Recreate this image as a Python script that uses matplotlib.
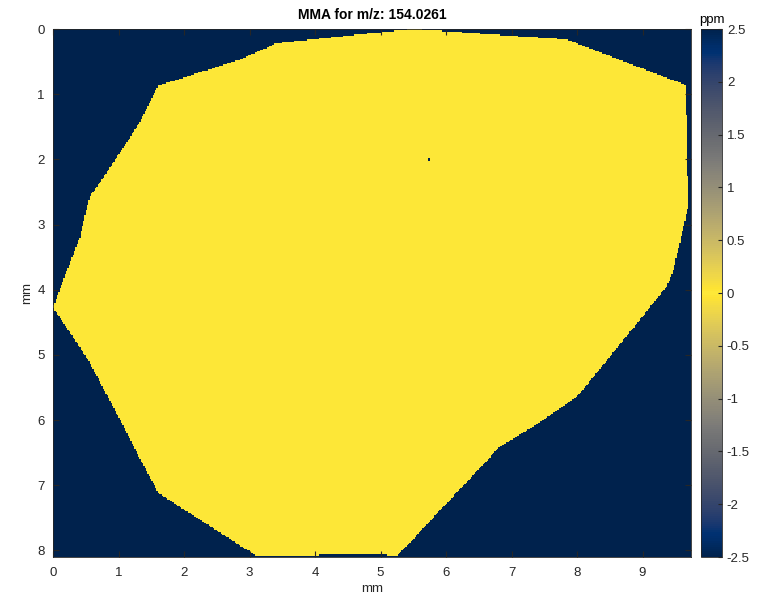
import numpy as np
import matplotlib
matplotlib.use('Agg')
from matplotlib import pyplot as plt
from matplotlib.path import Path
from matplotlib.colors import ListedColormap

# polygon outline of the sample (x mm, y mm)
outline_x = [5.50, 7.84, 9.66, 9.70, 9.47, 9.37, 8.96, 8.50, 8.00, 7.33, 6.82,
             5.26, 3.10, 1.61, 1.28, 0.97, 0.51, 0.00, 0.41, 0.56, 0.74, 1.10,
             1.33, 1.60, 2.85, 3.41, 4.79]
outline_y = [0.00, 0.16, 0.86, 2.72, 3.70, 3.95, 4.46, 5.03, 5.64, 6.10, 6.41,
             8.08, 8.08, 7.12, 6.50, 5.89, 5.03, 4.27, 3.19, 2.57, 2.32, 1.78,
             1.42, 0.87, 0.47, 0.22, 0.07]

mass_error_inside = 0.0   # ppm, value inside the tissue
mass_error_outside = 2.5  # ppm, value outside (shown dark)
dark_spot = (5.75, 2.0)   # single dark pixel in the tissue
bottom_gap = (4.05, 5.10) # dark strip on the last row

x_max, y_max = 9.74, 8.10
px = 0.02  # pixel size in mm

title = 'MMA for m/z: 154.0261'
cbar_ticks = [-2.5, -2, -1.5, -1, -0.5, 0, 0.5, 1, 1.5, 2, 2.5]
cbar_labels = ['-2.5', '-2', '-1.5', '-1', '-0.5', '0', '0.5', '1', '1.5', '2', '2.5']

plt.rcParams['font.family'] = ['Liberation Sans', 'DejaVu Sans']
plt.rcParams['font.size'] = 9.5

# build the image on a regular grid
xs = np.arange(px / 2, x_max, px)
ys = np.arange(px / 2, y_max, px)
gx, gy = np.meshgrid(xs, ys)
outline = Path(np.column_stack([outline_x, outline_y]))
inside = outline.contains_points(np.column_stack([gx.ravel(), gy.ravel()])).reshape(gx.shape)
img = np.where(inside, mass_error_inside, mass_error_outside)
ix = np.argmin(np.abs(xs - dark_spot[0]))
iy = np.argmin(np.abs(ys - dark_spot[1]))
img[iy - 1:iy + 1, ix - 1:ix + 1] = mass_error_outside
img[-2:, (xs > bottom_gap[0]) & (xs < bottom_gap[1])] = mass_error_outside

# cividis going up to yellow at 0 and back down
civ = plt.get_cmap('cividis')
cmap = ListedColormap(np.vstack([civ(np.linspace(0, 1, 128)), civ(np.linspace(1, 0, 128))]))

W, H = 769, 597
fig = plt.figure(figsize=(W / 100, H / 100), dpi=100)
ax = fig.add_axes([53 / W, 1 - 557 / H, 638 / W, 528 / H])
im = ax.imshow(img, cmap=cmap, vmin=-2.5, vmax=2.5, extent=[0, x_max, y_max, 0],
               aspect='auto', interpolation='nearest')
ax.set_xlim(0, x_max)
ax.set_ylim(y_max, 0)
ax.set_xticks(range(0, 10))
ax.set_yticks(range(0, 9))
ax.tick_params(direction='in', length=4, top=True, right=True, colors='#262626',
               labelcolor='#262626')
ax.tick_params(axis='x', pad=7)
ax.tick_params(axis='y', pad=6)
for s in ax.spines.values():
    s.set_color('#262626')
    s.set_linewidth(0.6)
ax.set_xlabel('mm', color='#262626', labelpad=3)
ax.set_ylabel('mm', color='#262626', labelpad=3)
ax.set_title(title, fontweight='bold', fontsize=10, pad=7)

cax = fig.add_axes([701 / W, 1 - 557 / H, 21 / W, 528 / H])
cb = fig.colorbar(im, cax=cax, ticks=cbar_ticks)
cb.ax.set_yticklabels(cbar_labels)
cb.ax.tick_params(direction='in', length=3, colors='#262626', labelcolor='#262626')
cb.outline.set_edgecolor('#262626')
cb.outline.set_linewidth(0.6)
cb.ax.set_title('ppm', fontsize=9.5, pad=4)

fig.savefig('out.png', dpi=100)
